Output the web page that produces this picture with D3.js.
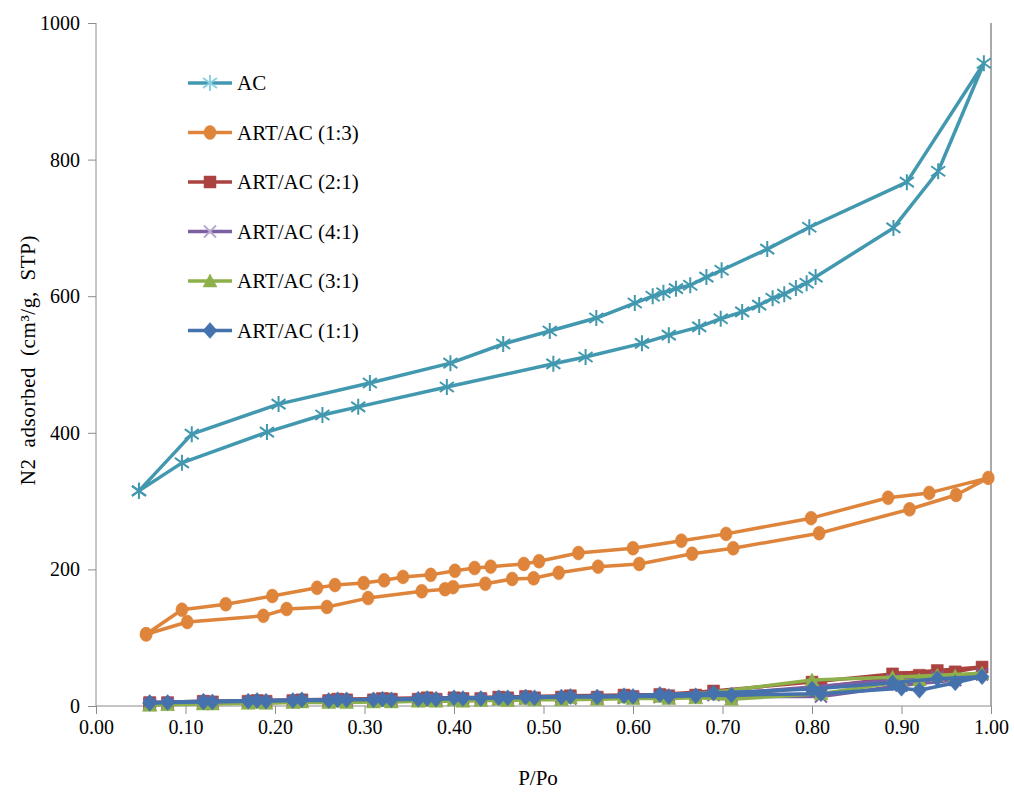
<!DOCTYPE html>
<html>
<head>
<meta charset="utf-8">
<script src="https://cdn.jsdelivr.net/npm/d3@7"></script>
<style>
  body { margin: 0; background: #fff; }
</style>
</head>
<body>
<svg id="chart" width="1014" height="796"></svg>
<script>
// AC: adsorption branch then desorption branch (closed loop)
const acP = [0.048, 0.096, 0.191, 0.253, 0.293, 0.392, 0.511, 0.547, 0.610, 0.640, 0.674, 0.698, 0.722, 0.741, 0.756, 0.769, 0.782, 0.794, 0.804, 0.891, 0.941, 0.992,
             0.906, 0.797, 0.750, 0.699, 0.682, 0.664, 0.648, 0.634, 0.622, 0.602, 0.559, 0.507, 0.455, 0.396, 0.306, 0.204, 0.107, 0.048];
const acV = [315, 356, 401, 426, 438, 467, 501, 511, 531, 543, 555, 567, 577, 587, 597, 603, 612, 619, 628, 700, 783, 941,
             767, 701, 669, 638, 628, 616, 611, 605, 600, 590, 568, 549, 530, 502, 473, 442, 398, 315];

// ART/AC (1:3)
const p13P = [0.056, 0.102, 0.187, 0.213, 0.258, 0.304, 0.364, 0.390, 0.399, 0.435, 0.465, 0.489, 0.517, 0.561, 0.607, 0.666, 0.712, 0.808, 0.909, 0.961, 0.997,
              0.931, 0.885, 0.799, 0.704, 0.654, 0.600, 0.539, 0.495, 0.478, 0.441, 0.423, 0.401, 0.374, 0.343, 0.322, 0.299, 0.267, 0.247, 0.197, 0.145, 0.096, 0.056];
const p13V = [105, 123, 132, 142, 145, 158, 168, 171, 174, 179, 186, 187, 195, 204, 208, 223, 231, 253, 288, 309, 334,
              312, 305, 275, 252, 242, 231, 224, 212, 208, 204, 202, 198, 192, 189, 184, 180, 177, 173, 161, 149, 141, 105];

// low-uptake samples share the same pressure points
const lowP = [0.06, 0.08, 0.12, 0.13, 0.17, 0.19, 0.22, 0.26, 0.28, 0.31, 0.33, 0.36, 0.38, 0.41, 0.43, 0.46, 0.49, 0.52, 0.56, 0.60, 0.64, 0.67, 0.71, 0.81, 0.90, 0.92, 0.96, 0.99,
              0.94, 0.89, 0.80, 0.69, 0.63, 0.59, 0.53, 0.48, 0.45, 0.40, 0.37, 0.32, 0.27, 0.23, 0.18, 0.12, 0.06];
const p21V = [4, 5, 6, 6, 7, 7, 8, 8, 9, 9, 10, 10, 10, 11, 11, 12, 12, 13, 13, 14, 15, 16, 17, 28, 42, 45, 50, 57,
              52, 47, 35, 22, 17, 16, 15, 14, 13, 12, 12, 11, 10, 9, 8, 7, 5];
const p41V = [2, 3, 4, 4, 5, 5, 6, 6, 7, 7, 7, 8, 8, 8, 9, 9, 10, 10, 11, 12, 12, 13, 14, 14, 30, 33, 38, 46,
              42, 38, 28, 16, 13, 12, 11, 11, 10, 9, 9, 8, 7, 7, 6, 5, 3];
const p31V = [1, 2, 3, 3, 4, 4, 5, 5, 5, 6, 6, 7, 7, 7, 8, 8, 9, 9, 10, 11, 11, 12, 10, 18, 36, 38, 44, 48,
              45, 42, 38, 20, 14, 13, 12, 11, 10, 9, 8, 8, 7, 6, 5, 4, 2];
const p11V = [4, 5, 6, 6, 7, 7, 8, 8, 9, 9, 9, 10, 10, 11, 11, 12, 12, 13, 13, 14, 14, 15, 16, 18, 26, 23, 34, 43,
              40, 34, 25, 19, 17, 15, 14, 13, 12, 12, 11, 10, 9, 9, 8, 7, 5];

const seriesNames = ['AC', 'ART/AC (1:3)', 'ART/AC (2:1)', 'ART/AC (4:1)', 'ART/AC (3:1)', 'ART/AC (1:1)'];
const xTicks = [0, 0.1, 0.2, 0.3, 0.4, 0.5, 0.6, 0.7, 0.8, 0.9, 1.0];
const yTicks = [0, 200, 400, 600, 800, 1000];

const FONT = '"Liberation Serif", "Times New Roman", serif';

const series = [
    { name: seriesNames[0], p: acP, v: acV, color: '#4298AF', mark: 'star', markColor: '#4298AF', legendMark: '#8CD0E4' },
    { name: seriesNames[1], p: p13P, v: p13V, color: '#DE843B', mark: 'circle', markColor: '#DE843B' },
    { name: seriesNames[2], p: lowP, v: p21V, color: '#AA4340', mark: 'square', markColor: '#AA4340' },
    { name: seriesNames[3], p: lowP, v: p41V, color: '#7C5FA2', mark: 'x', markColor: '#7C5FA2', legendMark: '#B8A8D0' },
    { name: seriesNames[4], p: lowP, v: p31V, color: '#8DB04B', mark: 'triangle', markColor: '#8DB04B' },
    { name: seriesNames[5], p: lowP, v: p11V, color: '#4572AC', mark: 'diamond', markColor: '#4572AC' }
];

const svg = d3.select('#chart').attr('font-family', FONT);
const x = d3.scaleLinear().domain([0, 1]).range([96, 991]);
const y = d3.scaleLinear().domain([0, 1000]).range([706, 23]);

// markers as paths centred on 0,0
function markerPath(type) {
    switch (type) {
        case 'star': return 'M0,-8V8M-7,-5L7,5M-7,5L7,-5';
        case 'x': return 'M-6,-6L6,6M-6,6L6,-6';
        case 'circle': return 'M-6,0a6,7 0 1,0 12,0a6,7 0 1,0 -12,0Z';
        case 'square': return 'M-6,-6H6V6H-6Z';
        case 'triangle': return 'M0,-7L7,6H-7Z';
        case 'diamond': return 'M0,-8L7,0L0,8L-7,0Z';
    }
}
function drawMarker(sel, s, col) {
    const filled = !(s.mark === 'star' || s.mark === 'x');
    sel.attr('d', markerPath(s.mark))
        .attr('fill', filled ? col : 'none')
        .attr('stroke', col)
        .attr('stroke-width', filled ? 0.5 : 2);
}

// axes
svg.append('line').attr('x1', 96).attr('x2', 96).attr('y1', 23).attr('y2', 706).attr('stroke', '#8c8c8c');
svg.append('line').attr('x1', 991).attr('x2', 991).attr('y1', 23).attr('y2', 706).attr('stroke', '#555');
svg.append('line').attr('x1', 96).attr('x2', 991).attr('y1', 706).attr('y2', 706).attr('stroke', '#8c8c8c');

const xAxis = svg.append('g').attr('transform', 'translate(0,706)')
    .call(d3.axisBottom(x).tickValues(xTicks).tickFormat(d3.format('.2f')).tickSize(8).tickPadding(6).tickSizeOuter(0));
const yAxis = svg.append('g').attr('transform', 'translate(96,0)')
    .call(d3.axisLeft(y).tickValues(yTicks).tickFormat(d3.format('d')).tickSize(8).tickPadding(8).tickSizeOuter(0));
[xAxis, yAxis].forEach(a => {
    a.attr('font-family', FONT).attr('font-size', 20);
    a.select('.domain').remove();
    a.selectAll('.tick line').attr('stroke', '#8c8c8c');
    a.selectAll('.tick text').attr('fill', '#000');
});

svg.append('text').attr('x', 538).attr('y', 785).attr('text-anchor', 'middle')
    .attr('font-size', 21).text('P/Po');
svg.append('text').attr('transform', 'translate(35,360) rotate(-90)').attr('text-anchor', 'middle')
    .attr('font-size', 21).attr('word-spacing', 5).attr('letter-spacing', 0.6)
    .text('N2 adsorbed (cm³/g, STP)');

// series
const line = d3.line().x(d => x(d[0])).y(d => y(d[1]));
series.forEach(s => {
    const pts = s.p.map((p, i) => [p, s.v[i]]);
    const g = svg.append('g');
    g.append('path').attr('d', line(pts)).attr('fill', 'none')
        .attr('stroke', s.color).attr('stroke-width', 3.5).attr('stroke-linejoin', 'round');
    g.selectAll('path.m').data(pts).join('path').attr('class', 'm')
        .attr('transform', d => `translate(${x(d[0])},${y(d[1])})`)
        .call(drawMarker, s, s.markColor);
});

// legend
const legend = svg.append('g');
series.forEach((s, i) => {
    const ly = 83 + i * 49.5;
    legend.append('line').attr('x1', 188).attr('x2', 232).attr('y1', ly).attr('y2', ly)
        .attr('stroke', s.color).attr('stroke-width', 3.5);
    legend.append('path').attr('transform', `translate(210,${ly})`)
        .call(drawMarker, s, s.legendMark || s.markColor);
    legend.append('text').attr('x', 237).attr('y', ly + 7).attr('font-size', 21).text(s.name);
});
</script>
</body>
</html>
